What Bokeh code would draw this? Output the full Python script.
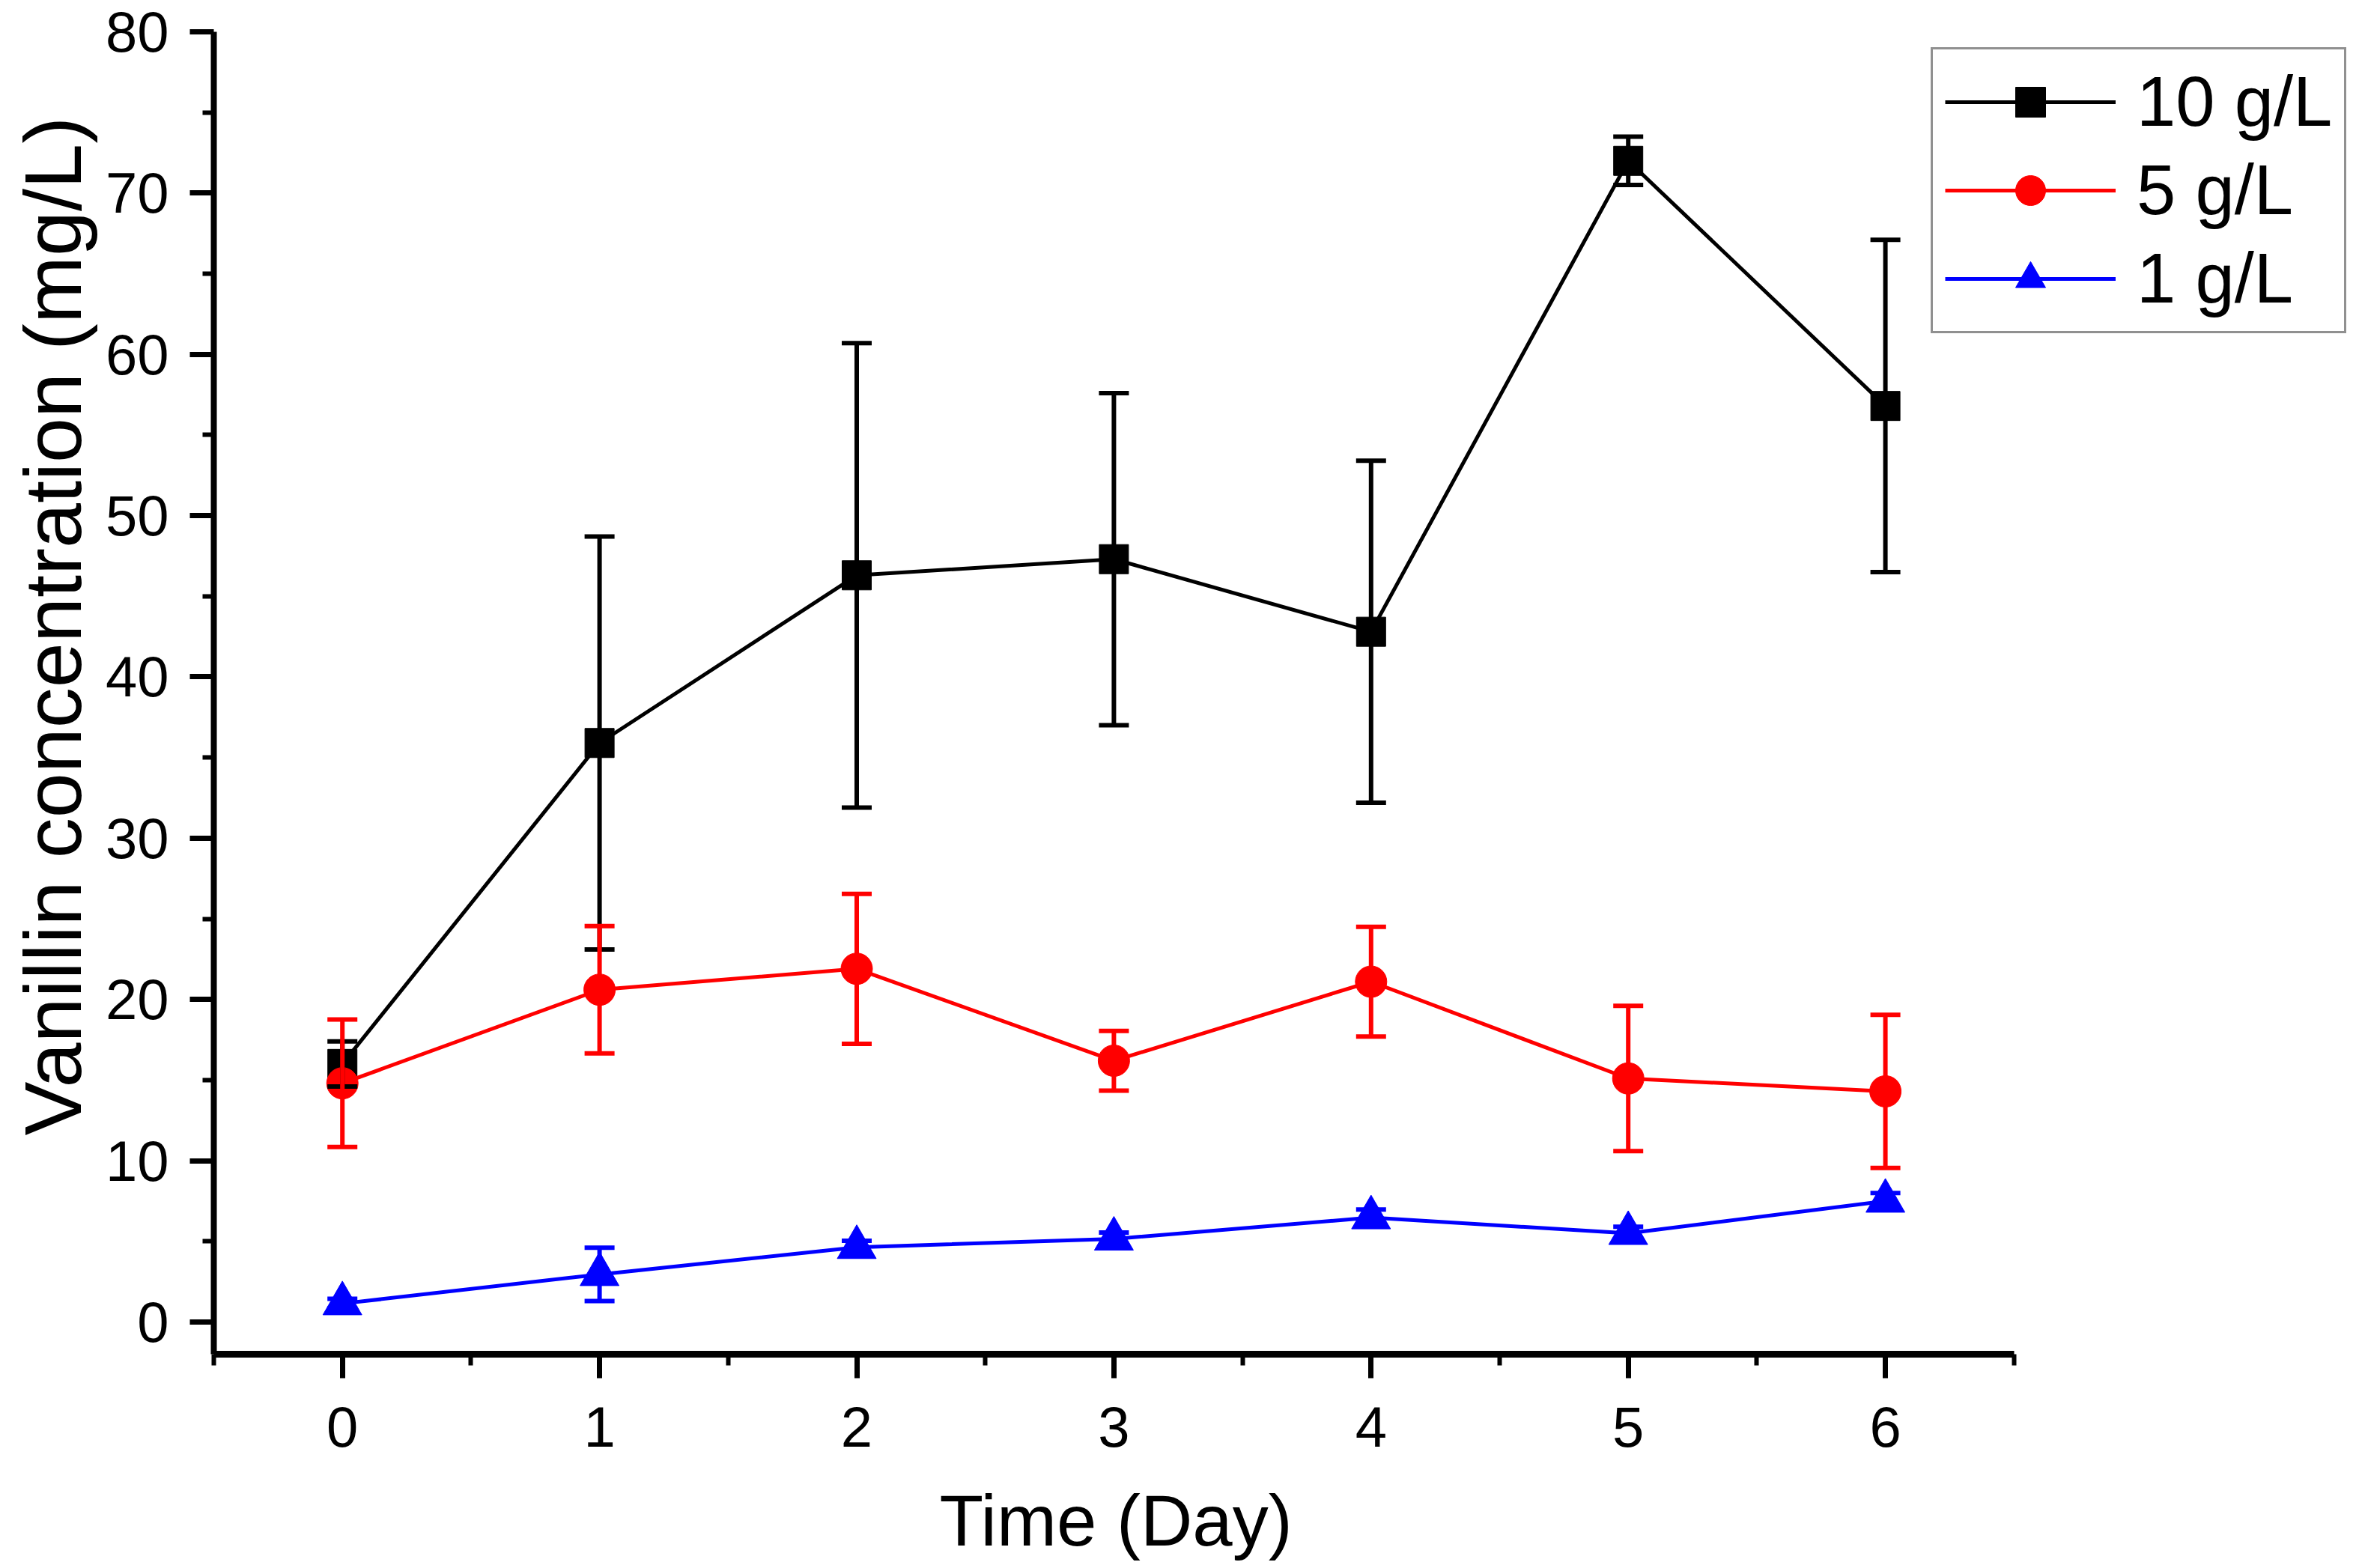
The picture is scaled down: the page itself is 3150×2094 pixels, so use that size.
from bokeh.plotting import figure
from bokeh.models import (Range1d, FixedTicker, ColumnDataSource, Whisker, TeeHead,
                          Legend, LegendItem, Title)
from bokeh.embed import file_html
from bokeh.resources import INLINE

# ---- data ----
days = [0, 1, 2, 3, 4, 5, 6]
conc_10 = [16.0, 35.9, 46.3, 47.3, 42.8, 72.0, 56.8]
err_10 = [1.4, 12.8, 14.4, 10.3, 10.6, 1.5, 10.3]
conc_5 = [14.8, 20.6, 21.9, 16.2, 21.1, 15.1, 14.3]
err_5 = [3.95, 3.95, 4.65, 1.85, 3.4, 4.5, 4.75]
conc_1 = [1.14, 2.95, 4.63, 5.15, 6.47, 5.5, 7.5]
err_1 = [0.3, 1.65, 0.4, 0.4, 0.5, 0.4, 0.5]
labels = ["10 g/L", "5 g/L", "1 g/L"]
colors = ["#000000", "#FF0000", "#0000FF"]
markers = ["square", "circle", "triangle"]
marker_sizes = [39, 42, 52]
y_ticks = [0, 10, 20, 30, 40, 50, 60, 70, 80]
y_minor = [5, 15, 25, 35, 45, 55, 65, 75]
x_minor = [-0.5, 0.5, 1.5, 2.5, 3.5, 4.5, 5.5, 6.5]
x_axis_bounds = (-0.5, 6.5)
x_title = "Time (Day)"
y_title = "Vanillin concentration (mg/L)"

FONT = "Liberation Sans"

FRAME_W = 2861          # frame spans to the right edge so the legend fits
FRAME_H = 1766
PX_PER_DAY = 343.4
x_end = -0.5 + FRAME_W / PX_PER_DAY

p = figure(frame_width=FRAME_W, frame_height=FRAME_H,
           x_range=Range1d(-0.5, x_end), y_range=Range1d(-2, 80),
           min_border_left=273, min_border_right=0,
           min_border_top=42, min_border_bottom=260,
           output_backend="svg", toolbar_location=None,
           background_fill_color="white", border_fill_color="white")
p.outline_line_color = None
p.xgrid.visible = False
p.ygrid.visible = False

# axes
xa = p.xaxis[0]
ya = p.yaxis[0]
xa.ticker = FixedTicker(ticks=days, minor_ticks=x_minor)
ya.ticker = FixedTicker(ticks=y_ticks, minor_ticks=y_minor)
xa.bounds = x_axis_bounds
for ax, lw in ((xa, 9), (ya, 8)):
    ax.axis_line_width = lw
    ax.axis_line_color = "black"
    ax.major_tick_in = 0
    ax.major_tick_out = 32
    ax.minor_tick_in = 0
    ax.minor_tick_out = 15
    ax.major_tick_line_width = 7
    ax.minor_tick_line_width = 6
    ax.major_tick_line_color = "black"
    ax.minor_tick_line_color = "black"
    ax.major_label_text_font = FONT
    ax.major_label_text_font_size = "76px"
    ax.major_label_text_color = "black"
xa.major_label_standoff = 38
ya.major_label_standoff = 28

# axis titles as side titles so they can be positioned along the axis
xt = Title(text=x_title, align="left", offset=969,
           text_font=FONT, text_font_size="96px", text_font_style="normal",
           text_color="black", standoff=80, text_line_height=0.8)
p.add_layout(xt, "below")
yt = Title(text=y_title, align="left", offset=292,
           text_font=FONT, text_font_size="108px", text_font_style="normal",
           text_color="black", standoff=14, text_line_height=0.8)
p.add_layout(yt, "left")

series = [(conc_10, err_10), (conc_5, err_5), (conc_1, err_1)]
items = []
for (vals, errs), lab, col, mk, ms in zip(series, labels, colors, markers, marker_sizes):
    src = ColumnDataSource(dict(
        x=days, y=vals,
        upper=[v + e for v, e in zip(vals, errs)],
        lower=[v - e for v, e in zip(vals, errs)],
    ))
    lr = p.line("x", "y", source=src, line_color=col, line_width=5)
    sr = p.scatter("x", "y", source=src, marker=mk, size=ms,
                   fill_color=col, line_color=col, line_width=1)
    w = Whisker(base="x", upper="upper", lower="lower", source=src,
                dimension="height", line_color=col, line_width=6,
                upper_head=TeeHead(size=40, line_color=col, line_width=6),
                lower_head=TeeHead(size=40, line_color=col, line_width=6),
                level="annotation")
    p.add_layout(w)
    items.append(LegendItem(label=lab, renderers=[lr, sr]))

legend = Legend(items=items, location=(2293, 1363),
                label_text_font=FONT, label_text_font_size="94px",
                label_text_color="black",
                glyph_width=228, glyph_height=100, label_height=100,
                spacing=10, padding=16, label_standoff=28, margin=0,
                border_line_color="#222222", border_line_width=3,
                background_fill_color="white", background_fill_alpha=1.0)
p.add_layout(legend, "center")

open("out.html", "w").write(file_html(p, INLINE))
